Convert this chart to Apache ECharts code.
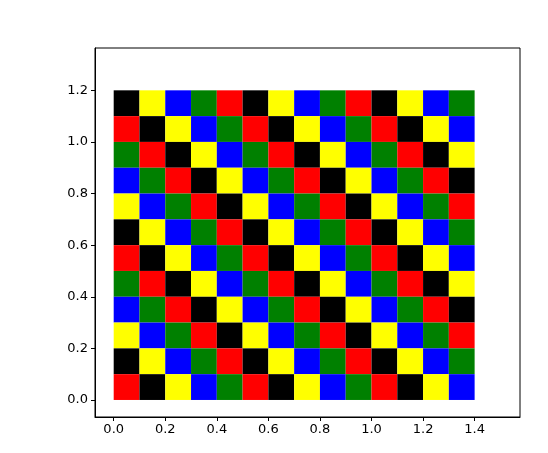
<!DOCTYPE html>
<html>
<head>
<meta charset="utf-8">
<script src="https://cdn.jsdelivr.net/npm/echarts@6/dist/echarts.min.js"></script>
<style>
    html, body {margin: 0; padding: 0; background: #ffffff;}
    #chartBox {width: 548px; height: 453px;}
</style>
</head>
<body>
<div id="chartBox"></div>
<script>
// colour codes of each cell, rows from top (y = 1.1) to bottom (y = 0.0)
// R red, K black, Y yellow, B blue, G green
const rows = [
    'KYBGRKYBGRKYBG',
    'RKYBGRKYBGRKYB',
    'GRKYBGRKYBGRKY',
    'BGRKYBGRKYBGRK',
    'YBGRKYBGRKYBGR',
    'KYBGRKYBGRKYBG',
    'RKYBGRKYBGRKYB',
    'GRKYBGRKYBGRKY',
    'BGRKYBGRKYBGRK',
    'YBGRKYBGRKYBGR',
    'KYBGRKYBGRKYBG',
    'RKYBGRKYBGRKYB'
];
// left edge of each column / bottom edge of each row (top to bottom)
const colX = [0.0, 0.1, 0.2, 0.3, 0.4, 0.5, 0.6, 0.7, 0.8, 0.9, 1.0, 1.1, 1.2, 1.3];
const rowY = [1.1, 1.0, 0.9, 0.8, 0.7, 0.6, 0.5, 0.4, 0.3, 0.2, 0.1, 0.0];
const cellSize = 0.1;
const xTicks = [0.0, 0.2, 0.4, 0.6, 0.8, 1.0, 1.2, 1.4];
const yTicks = [0.0, 0.2, 0.4, 0.6, 0.8, 1.0, 1.2];

const palette = {R: '#ff0000', K: '#000000', Y: '#ffff00', B: '#0000ff', G: '#008000'};

let cells = [];
rows.forEach(function (row, r) {
    row.split('').forEach(function (code, c) {
        cells.push([colX[c], rowY[r], code]);
    });
});

const font = {color: '#000000', fontSize: 13, fontFamily: 'DejaVu Sans'};

let chartBox = echarts.init(document.getElementById('chartBox'));
let option = {
    animation: false,
    backgroundColor: '#ffffff',
    grid: {left: 95, top: 48, right: 28, bottom: 36, show: true, borderColor: '#000000', borderWidth: 1},
    xAxis: {
        type: 'value', min: -0.0725, max: 1.576,
        splitLine: {show: false},
        axisLine: {show: true, onZero: false, lineStyle: {color: '#000000', width: 1}},
        axisTick: {show: true, inside: false, length: 4, lineStyle: {color: '#000000'}, customValues: xTicks},
        axisLabel: Object.assign({margin: 6, customValues: xTicks, formatter: function (v) { return v.toFixed(1); }}, font)
    },
    yAxis: {
        type: 'value', min: -0.066, max: 1.364,
        splitLine: {show: false},
        axisLine: {show: true, onZero: false, lineStyle: {color: '#000000', width: 1}},
        axisTick: {show: true, inside: false, length: 4, lineStyle: {color: '#000000'}, customValues: yTicks},
        axisLabel: Object.assign({margin: 7, customValues: yTicks, formatter: function (v) { return v.toFixed(1); }}, font)
    },
    series: [{
        type: 'custom',
        data: cells,
        renderItem: function (params, api) {
            let x = api.value(0), y = api.value(1);
            let p0 = api.coord([x, y + cellSize]);
            let p1 = api.coord([x + cellSize, y]);
            return {
                type: 'rect',
                shape: {x: p0[0], y: p0[1], width: p1[0] - p0[0], height: p1[1] - p0[1]},
                style: {fill: palette[cells[params.dataIndex][2]]}
            };
        }
    }]
};
chartBox.setOption(option, true);
</script>
</body>
</html>
